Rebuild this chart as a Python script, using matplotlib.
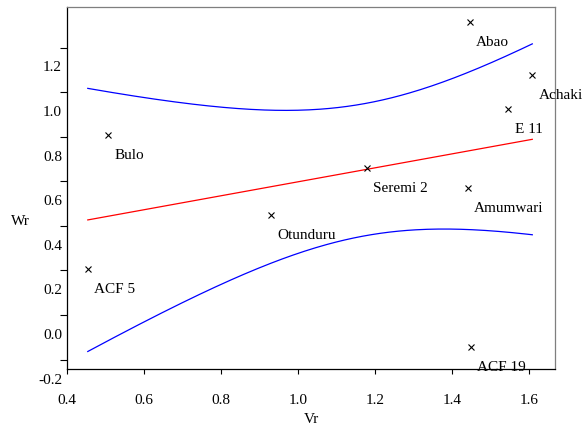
import numpy as np
import matplotlib
matplotlib.use("Agg")
import matplotlib.pyplot as plt

plt.rcParams['font.family'] = ['Liberation Serif', 'DejaVu Serif']
plt.rcParams['font.size'] = 11

# sites: Vr vs Wr
names = ['Abao', 'Achaki', 'E 11', 'Seremi 2', 'Amumwari', 'Bulo', 'Otunduru', 'ACF 5', 'ACF 19']
vr = [1.446, 1.608, 1.546, 1.178, 1.441, 0.506, 0.929, 0.454, 1.448]
wr = [1.402, 1.164, 1.012, 0.747, 0.657, 0.895, 0.536, 0.294, -0.056]

xticks = [0.4, 0.6, 0.8, 1.0, 1.2, 1.4, 1.6]
ytick_labels = ['-0.2', '0.0', '0.2', '0.4', '0.6', '0.8', '1.0', '1.2']

fig = plt.figure(figsize=(5.83, 4.27), dpi=100)
ax = fig.add_axes([0.1149, 0.1335, 0.8371, 0.8478])

x = np.array(vr)
y = np.array(wr)
n = len(x)

# least squares fit with confidence band for the mean
slope, icpt = np.polyfit(x, y, 1)
xs = np.linspace(x.min(), x.max(), 200)
fit = icpt + slope * xs
resid = y - (icpt + slope * x)
s = np.sqrt(np.sum(resid ** 2) / (n - 2))
sxx = np.sum((x - x.mean()) ** 2)
hw = 1.96 * s * np.sqrt(1.0 / n + (xs - x.mean()) ** 2 / sxx)

ax.plot(xs, fit, color='#ff0000', lw=0.9)
ax.plot(xs, fit + hw, color='#0000ff', lw=0.9)
ax.plot(xs, fit - hw, color='#0000ff', lw=0.9)

ax.plot(x, y, 'x', color='black', ms=4, mew=0.8)
for nm, xi, yi in zip(names, vr, wr):
    ax.annotate(nm, (xi, yi), xytext=(4.5, -14), textcoords='offset points',
                ha='left', va='center', annotation_clip=False)

ax.set_xlim(0.4, 1.667)
ax.set_ylim(-0.155, 1.469)

ax.set_xticks(xticks)
ax.set_xticklabels(['%.1f' % t for t in xticks])

# the y tick marks sit a bit above their labels in the original
yvals = [float(t) for t in ytick_labels]
ax.set_yticks([v + 0.087 for v in yvals])
ax.set_yticklabels([])
for lab, v in zip(ytick_labels, yvals):
    ax.annotate(lab, (0, v), xycoords=ax.get_yaxis_transform(),
                xytext=(-3.5, 0), textcoords='offset points',
                ha='right', va='center', annotation_clip=False)

ax.tick_params(axis='y', direction='out', length=5, width=0.8, pad=0)
ax.tick_params(axis='x', direction='out', length=3.5, width=0.8, pad=14)

for side in ['left', 'bottom']:
    ax.spines[side].set_color('black')
    ax.spines[side].set_linewidth(0.9)
for side in ['top', 'right']:
    ax.spines[side].set_color('#7f7f7f')
    ax.spines[side].set_linewidth(0.9)

ax.set_ylabel('Wr', rotation=0, va='center', ha='center')
ax.yaxis.set_label_coords(-0.096, 0.41)
ax.set_xlabel('Vr', labelpad=4)

fig.savefig('out.png', dpi=100)
